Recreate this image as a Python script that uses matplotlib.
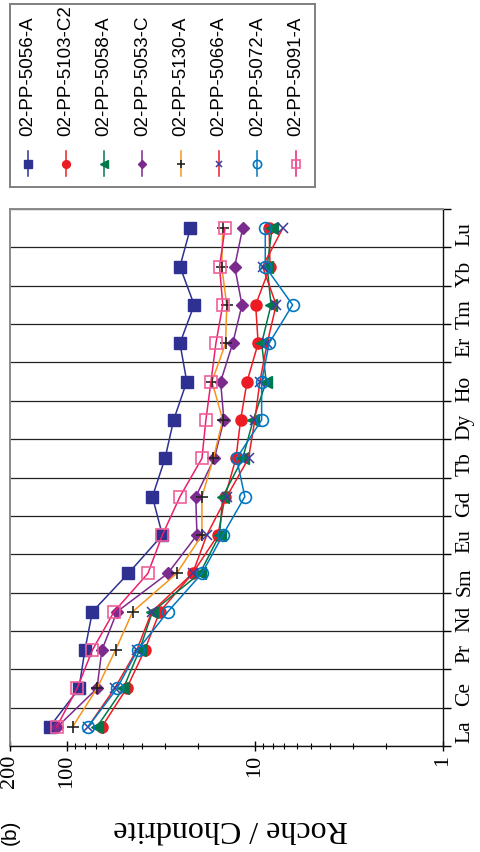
import matplotlib
matplotlib.use("Agg")
import matplotlib.pyplot as plt
from matplotlib.ticker import FixedLocator, FixedFormatter, NullFormatter

# REE chondrite-normalised data (figure is drawn rotated 90 deg, as in the scan)
elements = ["La", "Ce", "Pr", "Nd", "Sm", "Eu", "Gd", "Tb", "Dy", "Ho", "Er", "Tm", "Yb", "Lu"]
samples = ["02-PP-5056-A", "02-PP-5103-C2", "02-PP-5058-A", "02-PP-5053-C",
           "02-PP-5130-A", "02-PP-5066-A", "02-PP-5072-A", "02-PP-5091-A"]

s5056 = [123, 86, 80, 73, 47, 31, 35, 30, 27, 23, 25, 21, 25, 22]
s5103 = [65, 48, 38.5, 32, 21.4, 15.7, 14.4, 12.6, 11.9, 11.0, 9.6, 9.9, 8.3, 8.4]
s5058 = [69, 50, 41, 35, 19.6, 15.4, 14.8, 11.6, 10.2, 8.7, 9.2, 8.2, 8.6, 8.1]
s5053 = [112, 69, 65, 54, 29, 20.3, 20.6, 16.4, 14.6, 15.2, 13.1, 11.7, 12.8, 11.6]
s5130 = [93, 69, 55, 44.6, 26, 19.1, 19.1, 16.6, 14.8, 16.9, 14.3, 14.1, 15.0, 14.8]
s5066 = [77, 55.6, 42.4, 35.3, 21.4, 18.0, 14.1, 10.8, 10.0, 9.4, 8.6, 7.7, 9.1, 7.1]
s5072 = [77, 54, 42, 29, 19.1, 14.8, 11.3, 12.5, 9.2, 9.2, 8.4, 6.3, 8.8, 8.8]
s5091 = [113, 88, 73, 56, 37, 31, 25, 19.1, 18.2, 17.1, 16.1, 14.8, 15.4, 14.4]
series = [s5056, s5103, s5058, s5053, s5130, s5066, s5072, s5091]

value_ticks = [1, 10, 100, 200]
value_labels = ["1", "10", "100", "200"]
minor_ticks = [2, 3, 4, 5, 6, 7, 8, 9, 20, 30, 40, 50, 60, 70, 80, 90]

styles = [
    dict(color="#2E3192", marker="s", ms=8, mfc="#2E3192", mec="#2E3192"),
    dict(color="#ED1C24", marker="o", ms=8, mfc="#ED1C24", mec="#ED1C24"),
    dict(color="#00784A", marker="<", ms=8.5, mfc="#00784A", mec="#00784A"),
    dict(color="#7B2A8E", marker="D", ms=6.5, mfc="#7B2A8E", mec="#7B2A8E"),
    dict(color="#F7941D", marker="+", ms=9, mec="#222222", mew=1.2),
    dict(color="#ED1C24", marker="x", ms=7, mec="#3C3C9C", mew=1.1),
    dict(color="#0077C0", marker="o", ms=8.5, mfc="none", mec="#0077C0", mew=1.2),
    dict(color="#EC1E6E", marker="s", ms=8.5, mfc="none", mec="#F0609A", mew=1.2),
]

SERIF = "Liberation Serif"
SANS = "Liberation Sans"
W, H = 480, 853


def fig_box(x0, y0, x1, y1):
    # pixel box (top-left origin) -> figure fraction rect
    return [x0 / W, 1 - y1 / H, (x1 - x0) / W, (y1 - y0) / H]


fig = plt.figure(figsize=(W / 100, H / 100), dpi=100)

# main plot
ax = fig.add_axes(fig_box(10, 210, 443, 747))
pos = list(range(len(elements)))
for vals, st in zip(series, styles):
    ax.plot(vals, pos, lw=1.1, **st)

ax.set_xscale("log")
ax.set_xlim(200, 1)
ax.set_ylim(-0.5, len(elements) - 0.5)

ax.xaxis.set_major_locator(FixedLocator(value_ticks))
ax.xaxis.set_major_formatter(FixedFormatter(value_labels))
ax.xaxis.set_minor_locator(FixedLocator(minor_ticks))
ax.xaxis.set_minor_formatter(NullFormatter())
ax.tick_params(axis="x", which="major", direction="inout", length=7, width=1,
               pad=2, labelsize=16, labelrotation=90)
ax.tick_params(axis="x", which="minor", direction="inout", length=5, width=0.8)
for lab in ax.get_xticklabels():
    lab.set_family(SERIF)

ax.yaxis.tick_right()
ax.yaxis.set_major_locator(FixedLocator([p - 0.5 for p in pos] + [pos[-1] + 0.5]))
ax.yaxis.set_major_formatter(NullFormatter())
ax.yaxis.set_minor_locator(FixedLocator(pos))
ax.yaxis.set_minor_formatter(FixedFormatter(elements))
ax.tick_params(axis="y", which="major", direction="out", length=6, width=1,
               left=False, right=True)
ax.tick_params(axis="y", which="minor", length=0, left=False, right=True,
               labelleft=False, labelright=True, pad=9, labelsize=15.5,
               labelrotation=90)
for lab in ax.get_yticklabels(minor=True):
    lab.set_family(SERIF)
ax.grid(axis="y", which="major", color="#222222", lw=0.9)
ax.set_axisbelow(True)

for side in ["left", "top"]:
    ax.spines[side].set_color("#8a8a8a")
    ax.spines[side].set_linewidth(1.4)
for side in ["right", "bottom"]:
    ax.spines[side].set_color("#111111")
    ax.spines[side].set_linewidth(1.0)

ax.set_xlabel("Roche / Chondrite", rotation=180, fontsize=23, family=SERIF,
              va="center", ha="center")
ax.xaxis.set_label_coords((231 - 10) / 433, (747 - 829) / 537)

# legend drawn by hand (rotated entries)
lg = fig.add_axes(fig_box(10, 5, 315, 188))
lg.set_xlim(10, 315)
lg.set_ylim(188, 5)
lg.set_xticks([])
lg.set_yticks([])
for sp in lg.spines.values():
    sp.set_color("#808080")
    sp.set_linewidth(1.4)
for i, (name, st) in enumerate(zip(samples, styles)):
    x = 27.5 + 38.3 * i
    lg.plot([x, x], [152, 177], color=st["color"], lw=1.1)
    mk = {k: v for k, v in st.items() if k not in ("color", "ms")}
    lg.plot([x], [164.5], ms=st["ms"] * 0.7, color=st["color"], **mk)
    lg.text(x, 136, name, rotation=90, ha="center", va="bottom",
            fontsize=13.5, family=SANS)

# panel label in the bottom-left corner
fig.text(16 / W, 1 - 820 / H, "(b)", rotation=90, rotation_mode="anchor",
         ha="right", va="baseline", fontsize=15, family=SANS)

fig.savefig("out.png", dpi=100)
